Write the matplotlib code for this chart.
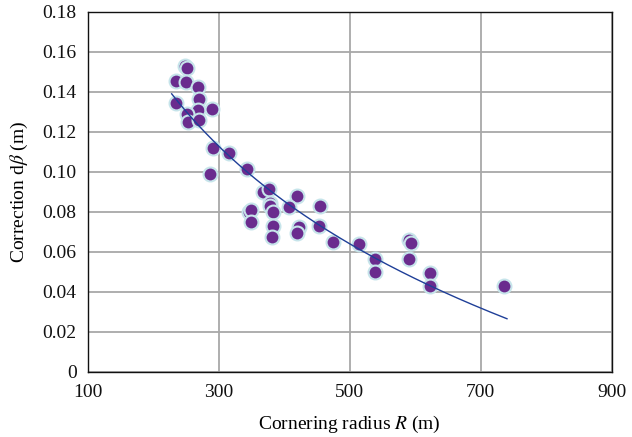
import numpy as np
import matplotlib
matplotlib.use("Agg")
import matplotlib.pyplot as plt

# Scatter data: cornering radius R (m) vs correction d-beta (m)
radius = [249, 251, 234, 250, 268, 270, 234, 268, 290, 252, 253, 270,
          291, 315, 286, 343, 368, 377, 419, 454, 346, 349, 378, 378,
          383, 407, 349, 383, 422, 420, 381, 453, 474, 514, 538, 538,
          591, 593, 590, 622, 622, 735]
correction = [0.153, 0.152, 0.1455, 0.1447, 0.1423, 0.1363, 0.1343, 0.1307, 0.1313,
              0.129, 0.1248, 0.126, 0.1118, 0.1095, 0.0987, 0.1013, 0.0897, 0.0913,
              0.088, 0.0827, 0.080, 0.0807, 0.0843, 0.0827, 0.080, 0.0823, 0.075,
              0.0727, 0.0723, 0.0693, 0.0673, 0.0727, 0.065, 0.064, 0.0565, 0.0497,
              0.066, 0.0645, 0.0563, 0.0493, 0.0427, 0.043]

# logarithmic trend line, y = a + b*ln(R), span as drawn
fit_a, fit_b = 0.6575, -0.0955
fit_start, fit_end = 228, 740

xticks = [100, 300, 500, 700, 900]
yticks = [0, 0.02, 0.04, 0.06, 0.08, 0.10, 0.12, 0.14, 0.16, 0.18]
ytick_labels = ["0", "0.02", "0.04", "0.06", "0.08", "0.10", "0.12", "0.14", "0.16", "0.18"]

plt.rcParams["font.family"] = ["Liberation Serif", "DejaVu Serif"]
plt.rcParams["mathtext.fontset"] = "stix"

fig = plt.figure(figsize=(6.32, 4.37), dpi=100)
ax = fig.add_axes([0.139, 0.149, 0.829, 0.824])

ax.grid(True, color="#a8a8a8", linewidth=1.3)
ax.set_axisbelow(True)

ax.scatter(radius, correction, s=100, color="#6a2c8e", edgecolors="#c6e4ea",
           linewidths=1.5, zorder=3)

xs = np.linspace(fit_start, fit_end, 200)
ax.plot(xs, fit_a + fit_b * np.log(xs), color="#1f3f98", linewidth=1.0, zorder=4)

ax.set_xlim(100, 900)
ax.set_ylim(0, 0.18)
ax.set_xticks(xticks)
ax.set_yticks(yticks)
ax.set_yticklabels(ytick_labels)
ax.tick_params(length=0, labelsize=14, colors="#111111")
ax.tick_params(axis="y", pad=8)
ax.tick_params(axis="x", pad=9)
for sp in ax.spines.values():
    sp.set_linewidth(1.0)
    sp.set_color("#111111")

ax.set_xlabel(r"Cornering radius $R$ (m)", fontsize=14, labelpad=9)
ax.set_ylabel(r"Correction d$\beta$ (m)", fontsize=14, labelpad=9)

fig.savefig("out.png", dpi=100)
